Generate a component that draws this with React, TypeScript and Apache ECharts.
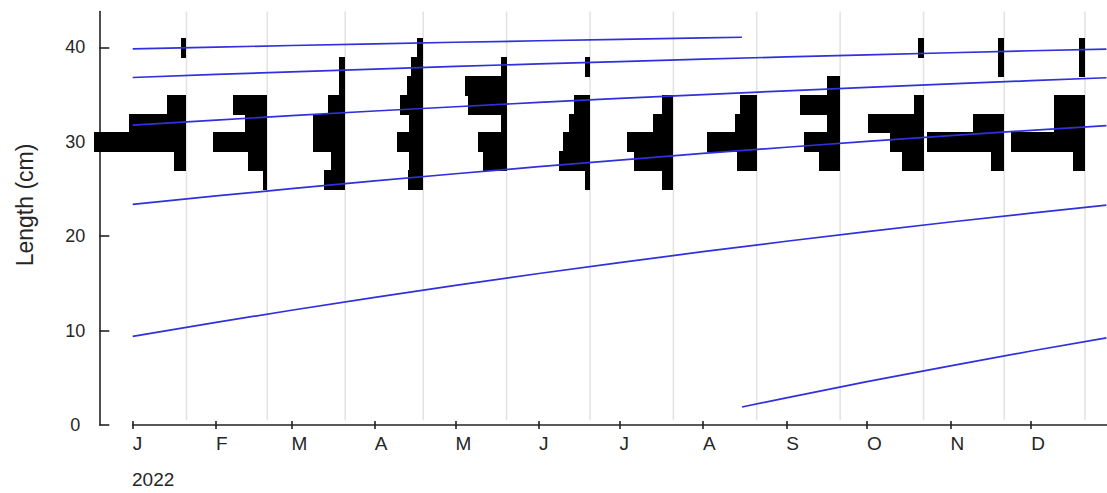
import React, { useEffect, useRef } from "react";
import * as echarts from "echarts";

// ---------- data ----------
const YEAR_START = "2022-01-01";
const YEAR_LABEL = "2022";
const Y_TITLE = "Length (cm)";
const MONTH_STARTS = [
  "2022-01-01", "2022-02-01", "2022-03-01", "2022-04-01", "2022-05-01", "2022-06-01",
  "2022-07-01", "2022-08-01", "2022-09-01", "2022-10-01", "2022-11-01", "2022-12-01",
];
const MONTH_LABELS = ["J", "F", "M", "A", "M", "J", "J", "A", "S", "O", "N", "D"];
const Y_TICKS = [0, 10, 20, 30, 40];

// sampling dates (histogram baselines)
const SAMPLE_DATES = [
  "2022-01-21", "2022-02-20", "2022-03-21", "2022-04-19", "2022-05-20", "2022-06-20",
  "2022-07-21", "2022-08-21", "2022-09-21", "2022-10-22", "2022-11-21", "2022-12-21",
];

// length classes (mid points, cm), class width 2 cm
const BIN_MIDS = [26, 28, 30, 32, 34, 36, 38, 40];
const BIN_WIDTH = 2;

// frequencies per sample, one value per length class
const FREQ_JAN = [0, 1.9, 14.2, 8.9, 3.0, 0, 0, 0.8];
const FREQ_FEB = [0.7, 3.0, 8.3, 3.4, 5.2, 0, 0, 0];
const FREQ_MAR = [3.2, 2.2, 4.9, 4.9, 2.6, 0.9, 0.9, 0];
const FREQ_APR = [2.4, 2.2, 4.1, 2.2, 3.5, 2.5, 1.8, 0.9];
const FREQ_MAY = [0, 3.6, 4.4, 0.8, 5.9, 6.4, 0.8, 0];
const FREQ_JUN = [0.8, 4.8, 4.1, 3.2, 2.4, 0, 0.8, 0];
const FREQ_JUL = [1.8, 6.0, 7.2, 3.1, 1.8, 0, 0, 0];
const FREQ_AUG = [0, 3.1, 7.7, 3.3, 2.6, 0, 0, 0];
const FREQ_SEP = [0, 3.3, 5.5, 2.0, 6.2, 2.0, 0, 0];
const FREQ_OCT = [0, 3.3, 5.1, 8.5, 1.5, 0, 0, 0.9];
const FREQ_NOV = [0, 2.0, 11.8, 4.8, 0, 0, 0.9, 0.9];
const FREQ_DEC = [0, 1.9, 11.3, 4.8, 4.8, 0, 0.9, 0.9];
const FREQS = [
  FREQ_JAN, FREQ_FEB, FREQ_MAR, FREQ_APR, FREQ_MAY, FREQ_JUN,
  FREQ_JUL, FREQ_AUG, FREQ_SEP, FREQ_OCT, FREQ_NOV, FREQ_DEC,
];

// growth curves (cohorts): day of year 2022 and length (cm)
const CURVE_DAYS = [0, 31, 59, 90, 120, 151, 181, 212, 243, 273, 304, 334, 362];
const COHORT_2 = [36.82, 37.14, 37.42, 37.71, 37.99, 38.26, 38.51, 38.76, 39.0, 39.22, 39.44, 39.65, 39.83];
const COHORT_3 = [31.77, 32.31, 32.77, 33.27, 33.72, 34.18, 34.6, 35.01, 35.41, 35.78, 36.14, 36.48, 36.79];
const COHORT_4 = [23.37, 24.27, 25.04, 25.86, 26.62, 27.37, 28.07, 28.77, 29.43, 30.04, 30.65, 31.22, 31.72];
const COHORT_5 = [9.39, 10.87, 12.16, 13.53, 14.79, 16.05, 17.21, 18.36, 19.47, 20.49, 21.51, 22.44, 23.29];
const COHORT_1_DAYS = [0, 31, 59, 90, 120, 151, 181, 212, 226.5];
const COHORT_1 = [39.85, 40.04, 40.21, 40.39, 40.55, 40.71, 40.86, 41.01, 41.08];
const COHORT_6_DAYS = [226.5, 243, 273, 304, 334, 362];
const COHORT_6 = [1.91, 2.88, 4.59, 6.27, 7.84, 9.24];

// ---------- layout / style constants ----------
const X_MAX = 362.2;
const Y_MAX = 43.8;
const FREQ_TO_DAYS = 2.42; // horizontal size of one frequency unit, in days
const FONT = "'Liberation Sans', Arial, sans-serif";
const TEXT = "#262626";
const AXIS = "#222";
const BLUE = "#3030dc";

const dayOf = (iso: string) => (Date.parse(iso) - Date.parse(YEAR_START)) / 86400000;

export default function App() {
  const ref = useRef<HTMLDivElement>(null);

  useEffect(() => {
    if (!ref.current) return;
    const chart = echarts.init(ref.current, undefined, { renderer: "svg" });

    const tickDays = MONTH_STARTS.map(dayOf);
    const sampleDays = SAMPLE_DATES.map(dayOf);

    const histData: number[][] = [];
    sampleDays.forEach((d, i) => {
      FREQS[i].forEach((f, j) => {
        if (f > 0) histData.push([d, BIN_MIDS[j], f]);
      });
    });

    const zip = (xs: number[], ys: number[]) => xs.map((x, i) => [x, ys[i]]);
    const cohorts = [
      zip(COHORT_1_DAYS, COHORT_1),
      zip(CURVE_DAYS, COHORT_2),
      zip(CURVE_DAYS, COHORT_3),
      zip(CURVE_DAYS, COHORT_4),
      zip(CURVE_DAYS, COHORT_5),
      zip(COHORT_6_DAYS, COHORT_6),
    ];

    const lineSeries = cohorts.map((data) => ({
      type: "line",
      data,
      showSymbol: false,
      symbol: "none",
      silent: true,
      z: 4,
      lineStyle: { color: BLUE, width: 1.7 },
    }));

    chart.setOption({
      animation: false,
      textStyle: { fontFamily: FONT },
      grid: { left: 132.7, right: 0, top: 11.6, bottom: 68, containLabel: false },
      xAxis: [
        {
          type: "value",
          min: 0,
          max: X_MAX,
          axisLine: { show: true, onZero: false, lineStyle: { color: AXIS, width: 1.6 } },
          axisTick: { show: true, inside: true, length: 4, customValues: tickDays, lineStyle: { color: AXIS, width: 1.6 } },
          axisLabel: {
            show: true,
            customValues: tickDays,
            formatter: (v: number) => {
              const i = tickDays.findIndex((t) => Math.abs(t - v) < 0.01);
              return i >= 0 ? MONTH_LABELS[i] : "";
            },
            align: "left",
            margin: 9,
            fontSize: 19,
            color: TEXT,
            fontFamily: FONT,
          },
          splitLine: { show: false },
        },
        {
          type: "value",
          min: 0,
          max: X_MAX,
          position: "bottom",
          axisLine: { show: false, onZero: false },
          axisTick: { show: true, inside: false, length: 4, customValues: tickDays, lineStyle: { color: AXIS, width: 1.6 } },
          axisLabel: { show: false },
          splitLine: { show: false },
        },
      ],
      yAxis: {
        type: "value",
        min: 0,
        max: Y_MAX,
        offset: 33.4,
        axisLine: { show: true, onZero: false, lineStyle: { color: AXIS, width: 1.6 } },
        axisTick: { show: true, inside: true, length: 10, customValues: Y_TICKS, lineStyle: { color: AXIS, width: 1.6 } },
        axisLabel: {
          customValues: Y_TICKS,
          align: "center",
          margin: 24,
          fontSize: 18,
          color: TEXT,
          fontFamily: FONT,
        },
        splitLine: { show: false },
      },
      graphic: [
        {
          type: "text",
          x: 132,
          y: 479.5,
          style: { text: YEAR_LABEL, fontSize: 19, fill: TEXT, fontFamily: FONT, align: "left", verticalAlign: "middle" },
        },
        {
          type: "text",
          x: 25,
          y: 205,
          rotation: Math.PI / 2,
          style: { text: Y_TITLE, fontSize: 23, fill: TEXT, fontFamily: FONT, align: "center", verticalAlign: "middle" },
        },
      ],
      series: [
        {
          type: "custom",
          silent: true,
          z: 1,
          clip: false,
          data: sampleDays.map((d) => [d, 0]),
          renderItem: (_p: any, api: any) => {
            const top = api.coord([api.value(0), Y_MAX]);
            const bot = api.coord([api.value(0), 0.5]);
            return {
              type: "line",
              shape: { x1: top[0], y1: top[1], x2: bot[0], y2: bot[1] },
              style: { stroke: "#e4e4e4", lineWidth: 1.6 },
            };
          },
        },
        {
          type: "custom",
          silent: true,
          z: 2,
          clip: false,
          data: histData,
          renderItem: (_p: any, api: any) => {
            const day = api.value(0);
            const mid = api.value(1);
            const f = api.value(2);
            const a = api.coord([day - f * FREQ_TO_DAYS, mid + BIN_WIDTH / 2]);
            const b = api.coord([day, mid - BIN_WIDTH / 2]);
            const x0 = Math.round(a[0]);
            const x1 = Math.round(b[0]);
            const y0 = Math.round(a[1]);
            const y1 = Math.round(b[1]);
            return {
              type: "rect",
              shape: { x: x0, y: y0, width: Math.max(1, x1 - x0), height: y1 - y0 + 1 },
              style: { fill: "#000" },
            };
          },
        },
        ...lineSeries,
      ],
    });

    return () => chart.dispose();
  }, []);

  return (
    <div
      ref={ref}
      style={{ position: "fixed", left: 0, top: 0, width: 1107, height: 493, background: "#fff" }}
    />
  );
}
